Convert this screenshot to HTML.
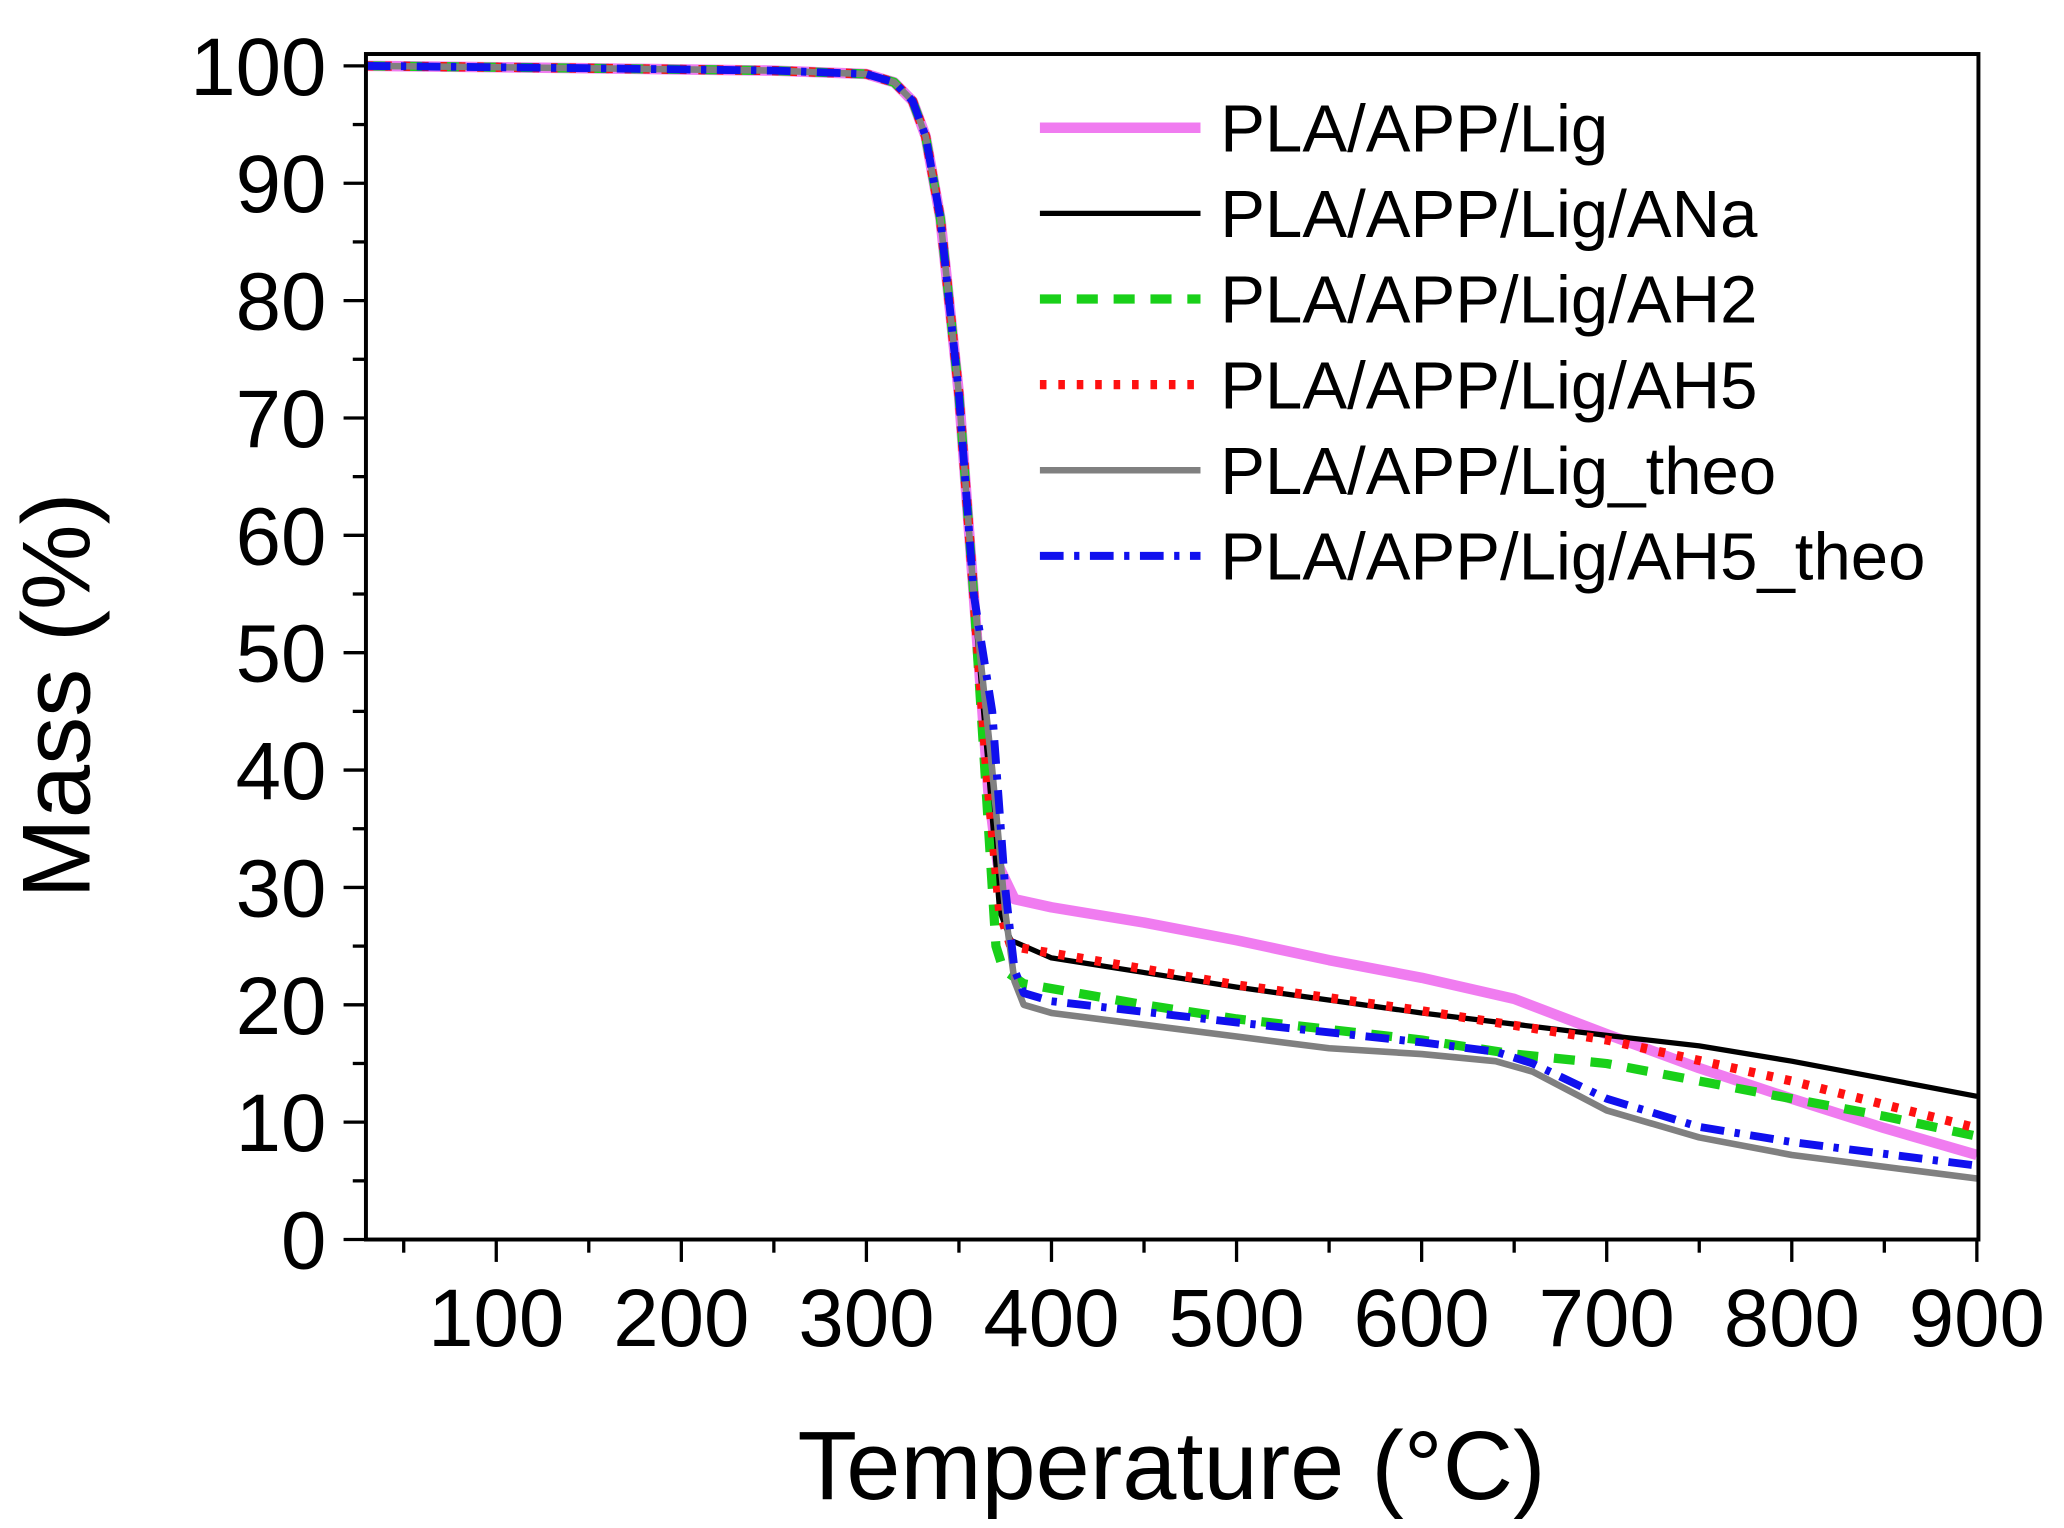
<!DOCTYPE html>
<html><head><meta charset="utf-8"><style>
html,body{margin:0;padding:0;background:#fff}
svg{display:block}
text{font-family:"Liberation Sans",Arial,sans-serif;fill:#000}
</style></head><body>
<svg id="s" width="2064" height="1528" viewBox="0 0 1568 1160" preserveAspectRatio="none" xmlns="http://www.w3.org/2000/svg">
<rect x="0" y="0" width="1568" height="1160" fill="#fff"/>
<g id="ticks" stroke="#000" stroke-width="2.5"></g>
<g id="curves" fill="none" stroke-linejoin="round"></g>
<rect x="278" y="41" width="1225" height="900" fill="none" stroke="#000" stroke-width="3"/>
<g font-size="62" text-anchor="end" id="ylab"></g>
<g font-size="62" text-anchor="middle" id="xlab"></g>
<text x="890" y="1138" font-size="74" text-anchor="middle">Temperature (°C)</text>
<text transform="translate(68,528) rotate(-90)" font-size="73" text-anchor="middle">Mass (%)</text>
<g id="legend" font-size="51"></g>
</svg>
<script>
const X=T=>377+(T-100)*1.406, Y=m=>941-m*8.91;
const NS="http://www.w3.org/2000/svg";
function el(p,tag,a,txt){const e=document.createElementNS(NS,tag);for(const k in a)e.setAttribute(k,a[k]);if(txt)e.textContent=txt;document.getElementById(p).appendChild(e);return e;}
for(let T=50;T<=900;T+=50){const maj=T%100==0;el("ticks","line",{x1:X(T),x2:X(T),y1:941,y2:941+(maj?17:10)});if(maj)el("xlab","text",{x:X(T),y:1022},String(T));}
for(let m=0;m<=100;m+=5){const maj=m%10==0;el("ticks","line",{x1:278,x2:278-(maj?17:10),y1:Y(m),y2:Y(m)});if(maj)el("ylab","text",{x:248,y:Y(m)+22},String(m));}
const head=[[30,100],[150,99.8],[250,99.6],[300,99.3],[315,98.6],[325,97],[332,94],[340,87],[350,72],[358,55]];
const series=[
 {c:"#f07cf0",w:8,d:"",pts:[[366,38],[371,32],[380,29],[400,28.3],[450,27],[500,25.5],[550,23.8],[600,22.3],[650,20.5],[700,17.5],[750,14.6],[800,12],[850,9.5],[900,7.2]]},
 {c:"#000",w:4,d:"",pts:[[366,40],[372,28],[378,25.5],[400,24],[500,21.5],[600,19.3],[700,17.4],[750,16.5],[800,15.2],[850,13.7],[900,12.2]]},
 {c:"#19d019",w:7,d:"16,12",pts:[[364,40],[370,25],[374,23],[385,21.8],[450,20],[500,18.8],[600,17],[650,15.8],[700,15],[750,13.5],[800,12],[850,10.5],[900,8.8]]},
 {c:"#ff1010",w:7,d:"5,9",pts:[[365,40],[372,28],[378,25],[400,24.4],[500,21.7],[600,19.5],[700,17],[800,13.5],[900,9.5]]},
 {c:"#808080",w:5,d:"",pts:[[368,40],[375,28],[380,22],[385,20],[400,19.3],[500,17.3],[550,16.3],[600,15.8],[640,15.2],[660,14.3],[700,11],[750,8.7],[800,7.2],[900,5.2]]},
 {c:"#1010ee",w:6,d:"18,8,4,8",pts:[[368,45],[375,30],[380,23],[385,21],[400,20.3],[500,18.5],[600,16.8],[640,16],[660,15],[700,12],[750,9.6],[800,8.3],[900,6.3]]}
];
const names=["PLA/APP/Lig","PLA/APP/Lig/ANa","PLA/APP/Lig/AH2","PLA/APP/Lig/AH5","PLA/APP/Lig_theo","PLA/APP/Lig/AH5_theo"];
series.forEach((s,i)=>{
 const pts=head.concat(s.pts).map(p=>X(p[0]).toFixed(1)+","+Y(p[1]).toFixed(1)).join(" ");
 const a={points:pts,stroke:s.c,"stroke-width":s.w};if(s.d)a["stroke-dasharray"]=s.d;
 el("curves","polyline",a);
 const ly=97+i*65;
 const la={x1:790,x2:912,y1:ly,y2:ly,stroke:s.c,"stroke-width":s.w};if(s.d)la["stroke-dasharray"]=s.d;
 el("legend","line",la);
 el("legend","text",{x:927,y:ly+18},names[i]);
});
</script>
</body></html>
